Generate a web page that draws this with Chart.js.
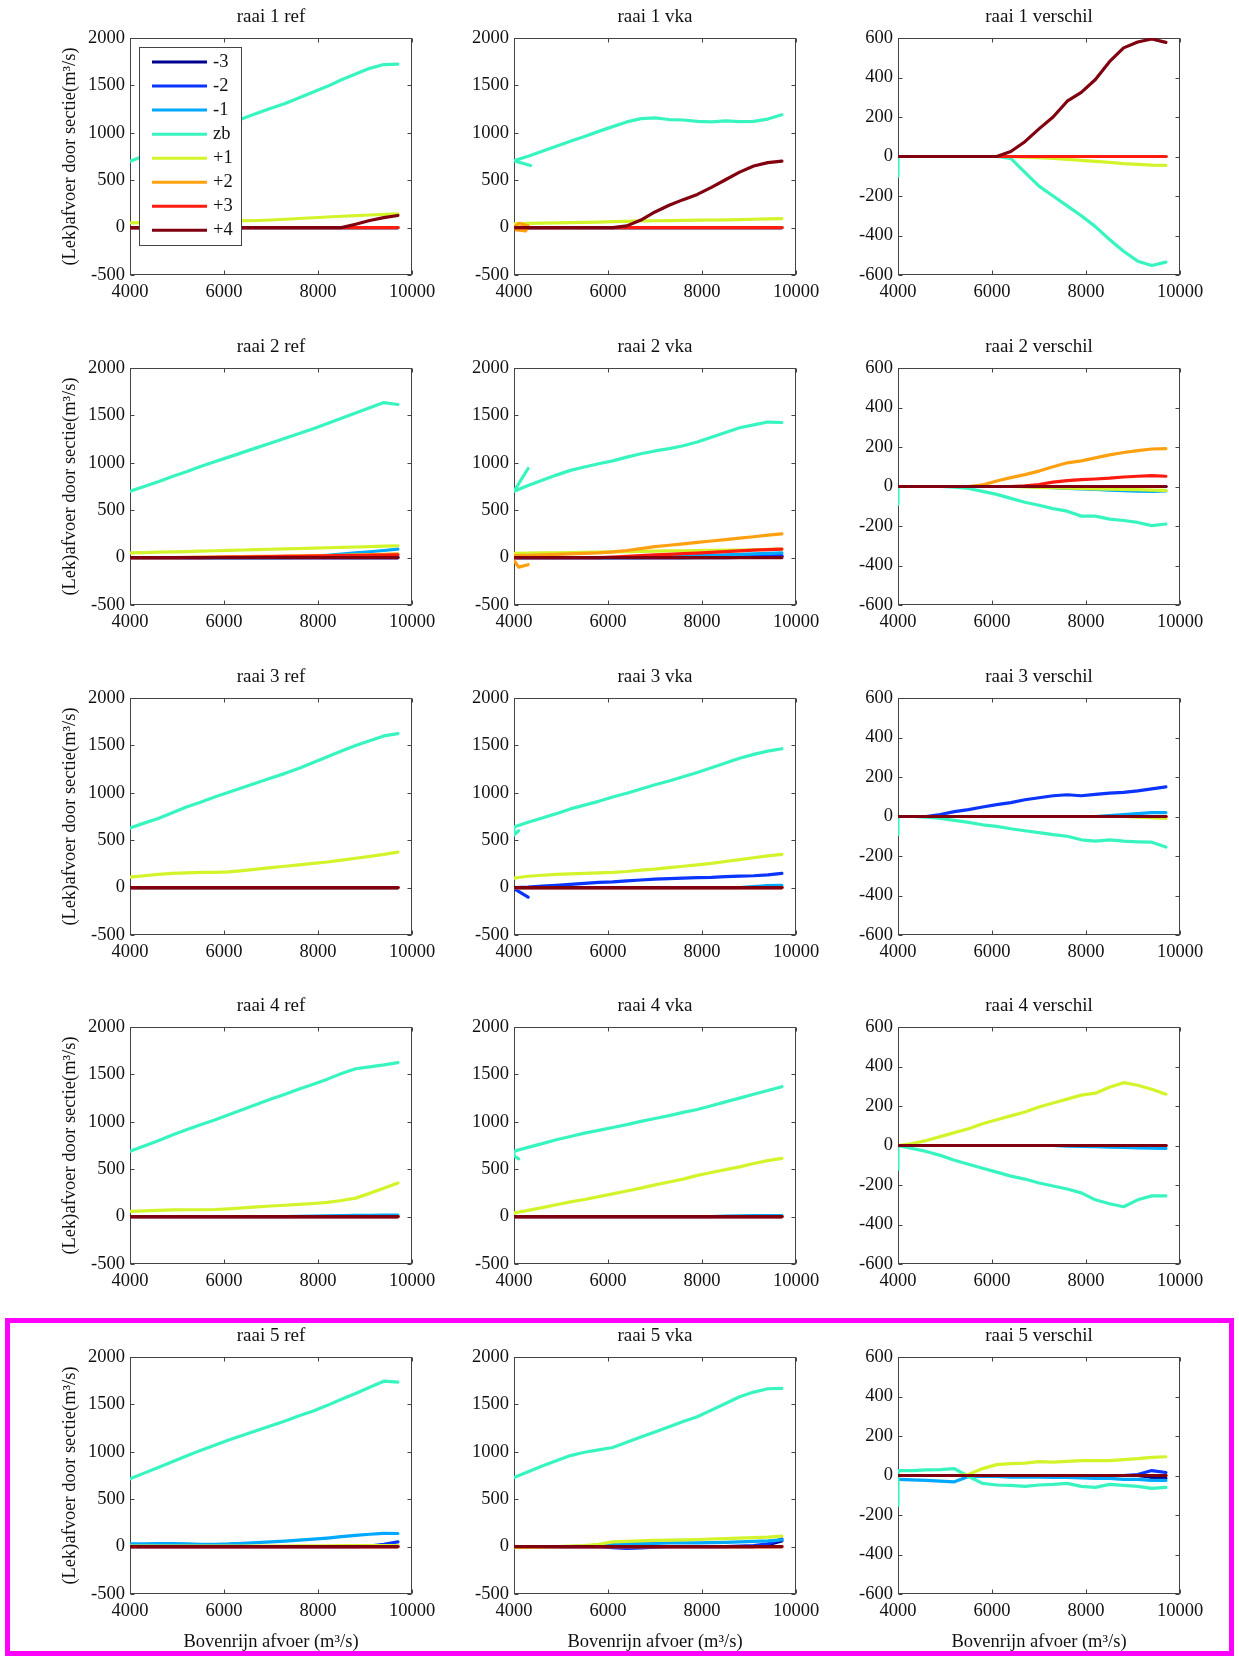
<!DOCTYPE html>
<html><head><meta charset="utf-8">
<script src="https://cdn.jsdelivr.net/npm/chart.js@4.4.1/dist/chart.umd.min.js"></script>
<style>
html,body{margin:0;padding:0;background:#fff;}
body{width:1239px;height:1656px;position:relative;overflow:hidden;}
.p{position:absolute;}
#frame{position:absolute;left:5px;top:1318px;width:1219px;height:328px;border:5px solid #ff00ff;pointer-events:none;z-index:5;}
</style></head><body>
<div id="frame"></div>
<script>
// ---------- data ----------
const SERIES_NAMES = ['-3','-2','-1','zb','+1','+2','+3','+4'];
const X_TICKS = [4000, 6000, 8000, 10000];
const Y_TICKS_Q = [-500, 0, 500, 1000, 1500, 2000];
const Y_TICKS_D = [-600, -400, -200, 0, 200, 400, 600];
const X  = [4000,4300,4600,4900,5200,5500,5800,6100,6400,6700,7000,7300,7600,7900,8200,8500,8800,9100,9400,9700];
const XC = [4000, 9700];
const ZC = [0, 0];

// raai 1
const R1REF_ZB = [700,755,810,870,925,985,1040,1095,1150,1205,1260,1310,1370,1430,1490,1560,1620,1680,1720,1725];
const R1REF_P1 = [50,53,56,59,62,65,68,70,72,75,80,88,96,104,112,120,127,133,140,145];
const R1REF_P4 = [0,0,0,0,0,0,0,0,0,0,0,0,0,0,0,0,35,75,105,128];
const R1VKA_ZB = [705,752,805,857,910,962,1015,1065,1115,1150,1158,1140,1135,1120,1115,1125,1118,1120,1145,1190];
const R1VKA_ZB_PRE = [[4350,655]];
const R1VKA_P1 = [40,45,48,50,52,55,58,62,66,70,72,74,76,78,80,82,85,88,92,95];
const R1VKA_P2_PRE = [[4000,0],[4100,45],[4300,20],[4250,-35],[4050,-25],[4000,0]];
const R1VKA_P4 = [0,0,0,0,0,0,0,0,18,80,165,235,295,350,425,505,585,650,685,702];
const R1DIF_ZB = [0,0,0,0,0,0,0,0,-10,-80,-150,-200,-250,-300,-355,-420,-480,-530,-552,-535];
const R1DIF_ZB_PRE = [[4000,-100]];
const R1DIF_P1 = [0,0,0,0,0,0,0,0,0,-3,-6,-10,-15,-20,-25,-30,-36,-40,-44,-45];
const R1DIF_P4 = [0,0,0,0,0,0,0,0,25,75,140,200,280,325,390,480,550,580,595,578];

// raai 2
const R2REF_ZB = [700,750,800,855,905,960,1010,1060,1110,1160,1210,1260,1310,1360,1415,1470,1525,1580,1635,1615];
const R2REF_P1 = [50,53,57,60,64,68,72,76,80,84,88,92,96,100,104,108,112,116,120,125];
const R2REF_M1 = [0,0,0,0,0,0,0,0,0,0,0,0,5,15,25,38,50,62,75,90];
const R2REF_P2 = [0,0,0,0,2,4,6,8,10,12,14,16,18,20,22,25,28,31,35,40];
const R2REF_P3 = [0,0,0,0,0,0,2,4,6,8,10,12,14,16,18,20,22,24,27,30];
const R2VKA_ZB = [700,760,815,870,920,955,990,1020,1060,1095,1125,1150,1180,1220,1270,1320,1370,1400,1430,1425];
const R2VKA_ZB_PRE = [[4300,940]];
const R2VKA_P1 = [45,47,49,51,53,55,57,60,63,66,68,70,72,74,76,78,80,83,86,90];
const R2VKA_P2 = [20,25,30,35,40,45,50,60,75,95,115,130,145,160,175,190,205,220,238,250];
const R2VKA_P2_PRE = [[4300,-75],[4100,-100],[4000,-30]];
const R2VKA_P3 = [0,0,0,0,0,0,0,5,12,20,28,35,42,48,55,62,70,78,85,90];
const R2VKA_M1 = [0,0,0,0,0,0,0,0,0,0,5,10,15,20,25,30,35,40,45,50];
const R2VKA_M2 = [0,0,0,0,0,0,0,0,0,0,0,0,0,2,4,6,8,12,16,20];
const R2VKA_M3 = [0,0,0,0,0,0,0,0,0,0,0,0,0,0,0,0,2,5,10,15];
const R2DIF_ZB = [0,0,0,0,-3,-10,-25,-40,-60,-80,-95,-112,-125,-150,-150,-165,-172,-182,-198,-190];
const R2DIF_ZB_PRE = [[4000,-90]];
const R2DIF_P1 = [0,0,0,0,0,0,0,0,0,-2,-4,-6,-8,-10,-12,-14,-15,-16,-18,-20];
const R2DIF_P2 = [0,0,0,0,0,0,8,28,45,60,78,100,120,130,145,160,172,182,190,192];
const R2DIF_P3 = [0,0,0,0,0,0,0,0,0,3,10,22,30,35,38,42,48,52,55,52];
const R2DIF_M1 = [0,0,0,0,0,0,0,0,0,0,-3,-6,-9,-12,-15,-18,-21,-24,-25,-22];

// raai 3
const R3REF_ZB = [630,680,730,790,850,900,955,1005,1055,1105,1155,1205,1260,1320,1380,1440,1500,1550,1600,1625];
const R3REF_P1 = [110,125,140,150,155,160,160,165,180,195,210,225,240,255,270,290,310,330,350,375];
const R3VKA_ZB = [640,690,735,780,830,870,910,955,995,1040,1085,1125,1170,1215,1265,1315,1365,1405,1440,1465];
const R3VKA_ZB_PRE = [[4100,600],[4000,555]];
const R3VKA_P1 = [100,120,130,140,145,150,155,160,170,185,195,210,225,240,255,275,295,315,335,350];
const R3VKA_M2 = [0,5,15,25,35,45,55,60,70,80,90,95,100,105,108,115,120,125,135,150];
const R3VKA_M2_PRE = [[4300,-100],[4000,-10]];
const R3VKA_M1 = [0,0,0,0,0,0,0,0,0,0,0,0,0,0,0,0,0,10,20,25];
const R3DIF_ZB = [0,0,-3,-10,-20,-30,-42,-50,-62,-72,-82,-92,-100,-118,-125,-118,-125,-128,-130,-155];
const R3DIF_ZB_PRE = [[4000,-90]];
const R3DIF_M2 = [0,0,0,10,25,35,48,60,70,85,95,105,110,105,112,118,122,130,140,150];
const R3DIF_M1 = [0,0,0,0,0,0,0,0,0,0,0,0,0,0,0,5,10,15,20,20];
const R3DIF_P1 = [0,0,0,0,0,0,0,0,0,0,0,0,0,0,0,0,0,-3,-6,-10];

// raai 4
const R4REF_ZB = [690,745,800,860,915,970,1020,1075,1130,1185,1240,1290,1345,1395,1450,1510,1560,1580,1600,1625];
const R4REF_P1 = [55,60,65,70,72,72,75,82,92,102,112,120,128,138,150,170,195,245,300,355];
const R4REF_M1 = [0,0,0,0,0,0,0,0,0,0,0,0,3,5,8,10,12,14,15,15];
const R4VKA_ZB = [690,730,770,810,845,880,910,940,970,1005,1035,1065,1100,1130,1170,1210,1250,1290,1330,1370];
const R4VKA_ZB_PRE = [[4100,610],[4000,640]];
const R4VKA_P1 = [40,65,95,125,155,180,210,240,270,300,335,365,395,435,465,495,525,560,590,615];
const R4VKA_P1_PRE = [[4000,15]];
const R4VKA_M1 = [0,0,0,0,0,0,0,0,0,0,0,0,0,0,0,5,8,10,10,10];
const R4DIF_ZB = [0,-15,-30,-50,-75,-95,-115,-135,-155,-170,-190,-205,-220,-240,-275,-295,-310,-275,-255,-255];
const R4DIF_ZB_PRE = [[4000,-120]];
const R4DIF_P1 = [0,10,25,45,65,85,110,130,150,170,195,215,235,255,265,295,318,305,285,260];
const R4DIF_M1 = [0,0,0,0,0,0,0,0,0,0,0,0,-3,-5,-6,-8,-10,-12,-14,-15];

// raai 5
const R5REF_ZB = [715,775,835,895,955,1015,1070,1125,1175,1225,1275,1325,1380,1430,1490,1555,1615,1680,1745,1735];
const R5REF_M1 = [30,30,32,32,30,25,25,28,35,42,50,58,68,78,90,105,118,130,140,138];
const R5REF_M2 = [0,0,0,0,0,0,0,0,0,0,0,0,0,0,0,0,0,5,25,50];
const R5REF_P1 = [5,5,5,5,5,5,5,5,5,5,5,6,7,8,9,10,10,10,10,10];
const R5VKA_ZB = [730,790,850,905,960,995,1020,1045,1100,1155,1210,1265,1320,1370,1440,1510,1580,1630,1665,1670];
const R5VKA_P1 = [-10,-8,-5,0,5,10,25,50,55,60,65,68,70,75,80,85,90,95,100,110];
const R5VKA_M1 = [0,0,0,0,0,5,15,30,32,35,35,38,40,40,42,45,50,55,60,70];
const R5VKA_M2 = [0,0,0,0,0,0,0,-10,-20,-15,-5,0,0,0,0,0,5,10,30,80];
const R5VKA_M3 = [0,0,0,0,0,0,0,0,0,0,0,0,0,0,0,0,0,0,20,60];
const R5DIF_ZB = [25,25,28,30,35,-5,-40,-48,-50,-55,-48,-45,-40,-55,-60,-45,-50,-55,-65,-60];
const R5DIF_ZB_PRE = [[4000,-150]];
const R5DIF_P1 = [0,0,0,0,0,5,35,55,60,63,70,68,72,75,75,75,80,85,92,95];
const R5DIF_M1 = [-20,-22,-25,-28,-32,-5,-5,-5,-8,-8,-8,-10,-10,-12,-15,-15,-20,-20,-25,-25];
const R5DIF_M2 = [0,0,0,0,0,0,0,0,0,0,0,0,0,0,0,0,0,5,25,15];
const R5DIF_M3 = [0,0,0,0,0,0,0,0,0,0,0,0,0,0,0,0,0,0,-10,-15];

// ---------- styles ----------
const COLORS = ['#000090','#0a34ff','#00a8ff','#38f5c0','#d2f42a','#ffa010','#ff1a10','#800010'];
const FONT = "'Liberation Serif', 'Times New Roman', serif";
const TEXT = '#111';
const AXIS = '#444';
const Y_TITLE = '(Lek)afvoer door sectie(m\u00B3/s)';
const X_TITLE = 'Bovenrijn afvoer (m\u00B3/s)';

const S = (x, y, pre) => ({x, y, pre: pre || []});
const Z = S(XC, ZC);
const PANELS = [
  {t:'raai 1 ref', k:'Q', legend:true, s:[Z,Z,Z,S(X,R1REF_ZB),S(X,R1REF_P1),Z,Z,S(X,R1REF_P4)]},
  {t:'raai 1 vka', k:'Q', s:[Z,Z,Z,S(X,R1VKA_ZB,R1VKA_ZB_PRE),S(X,R1VKA_P1),S(XC,ZC,R1VKA_P2_PRE),Z,S(X,R1VKA_P4)]},
  {t:'raai 1 verschil', k:'D', s:[Z,Z,Z,S(X,R1DIF_ZB,R1DIF_ZB_PRE),S(X,R1DIF_P1),Z,Z,S(X,R1DIF_P4)]},
  {t:'raai 2 ref', k:'Q', s:[Z,Z,S(X,R2REF_M1),S(X,R2REF_ZB),S(X,R2REF_P1),S(X,R2REF_P2),S(X,R2REF_P3),Z]},
  {t:'raai 2 vka', k:'Q', s:[S(X,R2VKA_M3),S(X,R2VKA_M2),S(X,R2VKA_M1),S(X,R2VKA_ZB,R2VKA_ZB_PRE),S(X,R2VKA_P1),S(X,R2VKA_P2,R2VKA_P2_PRE),S(X,R2VKA_P3),Z]},
  {t:'raai 2 verschil', k:'D', s:[Z,Z,S(X,R2DIF_M1),S(X,R2DIF_ZB,R2DIF_ZB_PRE),S(X,R2DIF_P1),S(X,R2DIF_P2),S(X,R2DIF_P3),Z]},
  {t:'raai 3 ref', k:'Q', s:[Z,Z,Z,S(X,R3REF_ZB),S(X,R3REF_P1),Z,Z,Z]},
  {t:'raai 3 vka', k:'Q', s:[Z,S(X,R3VKA_M2,R3VKA_M2_PRE),S(X,R3VKA_M1),S(X,R3VKA_ZB,R3VKA_ZB_PRE),S(X,R3VKA_P1),Z,Z,Z]},
  {t:'raai 3 verschil', k:'D', s:[Z,S(X,R3DIF_M2),S(X,R3DIF_M1),S(X,R3DIF_ZB,R3DIF_ZB_PRE),S(X,R3DIF_P1),Z,Z,Z]},
  {t:'raai 4 ref', k:'Q', s:[Z,Z,S(X,R4REF_M1),S(X,R4REF_ZB),S(X,R4REF_P1),Z,Z,Z]},
  {t:'raai 4 vka', k:'Q', s:[Z,Z,S(X,R4VKA_M1),S(X,R4VKA_ZB,R4VKA_ZB_PRE),S(X,R4VKA_P1,R4VKA_P1_PRE),Z,Z,Z]},
  {t:'raai 4 verschil', k:'D', s:[Z,Z,S(X,R4DIF_M1),S(X,R4DIF_ZB,R4DIF_ZB_PRE),S(X,R4DIF_P1),Z,Z,Z]},
  {t:'raai 5 ref', k:'Q', s:[Z,S(X,R5REF_M2),S(X,R5REF_M1),S(X,R5REF_ZB),S(X,R5REF_P1),Z,Z,Z]},
  {t:'raai 5 vka', k:'Q', s:[S(X,R5VKA_M3),S(X,R5VKA_M2),S(X,R5VKA_M1),S(X,R5VKA_ZB),S(X,R5VKA_P1),Z,Z,Z]},
  {t:'raai 5 verschil', k:'D', s:[S(X,R5DIF_M3),S(X,R5DIF_M2),S(X,R5DIF_M1),S(X,R5DIF_ZB,R5DIF_ZB_PRE),S(X,R5DIF_P1),Z,Z,Z]}
];

// ---------- layout ----------
const COL_LEFT = [130, 514, 898];
const ROW_TOP = [38, 368, 698, 1027, 1357];
const PW = 282, PH = 237, TP = 32, RP = 32;

const decor = {
  id: 'decor',
  beforeDatasetsDraw(chart) {
    const {ctx, chartArea: a, scales: {x, y}} = chart;
    ctx.save();
    ctx.strokeStyle = AXIS; ctx.lineWidth = 1;
    const L = Math.round(a.left) + 0.5, R = Math.round(a.right) - 0.5;
    const T = Math.round(a.top) + 0.5, B = Math.round(a.bottom) - 0.5;
    ctx.strokeRect(L, T, R - L, B - T);
    ctx.beginPath();
    const tl = 4;
    x.ticks.forEach(t => { const px = Math.round(x.getPixelForValue(t.value)) + 0.5;
      ctx.moveTo(px, B); ctx.lineTo(px, B - tl); ctx.moveTo(px, T); ctx.lineTo(px, T + tl); });
    y.ticks.forEach(t => { const py = Math.round(y.getPixelForValue(t.value)) + 0.5;
      ctx.moveTo(L, py); ctx.lineTo(L + tl, py); ctx.moveTo(R, py); ctx.lineTo(R - tl, py); });
    ctx.stroke();
    ctx.restore();
  },
  afterDatasetsDraw(chart, args, o) {
    const {ctx, chartArea: a} = chart;
    ctx.save();
    const cx = (a.left + a.right) / 2, cy = (a.top + a.bottom) / 2;
    ctx.fillStyle = TEXT;
    ctx.textAlign = 'center'; ctx.textBaseline = 'middle';
    ctx.font = '19px ' + FONT;
    ctx.fillText(o.title, cx, a.top - 21);
    ctx.font = '18.5px ' + FONT;
    if (o.xTitle) ctx.fillText(o.xTitle, cx, a.bottom + 48);
    if (o.yTitle) {
      ctx.save(); ctx.translate(a.left - 60, cy); ctx.rotate(-Math.PI / 2);
      ctx.fillText(o.yTitle, 0, 0); ctx.restore();
    }
    if (o.legend) {
      const bx = Math.round(a.left) + 9, by = Math.round(a.top) + 9, bw = 103, bh = 199;
      ctx.fillStyle = '#fff'; ctx.fillRect(bx, by, bw, bh);
      ctx.strokeStyle = AXIS; ctx.lineWidth = 1; ctx.strokeRect(bx + 0.5, by + 0.5, bw - 1, bh - 1);
      chart.data.datasets.forEach((d, i) => {
        const yy = by + 15 + i * 24.05;
        ctx.strokeStyle = d.borderColor; ctx.lineWidth = 3;
        ctx.beginPath(); ctx.moveTo(bx + 13, yy); ctx.lineTo(bx + 68, yy); ctx.stroke();
        ctx.fillStyle = TEXT; ctx.textAlign = 'left'; ctx.textBaseline = 'middle';
        ctx.fillText(d.label, bx + 74, yy);
      });
    }
    ctx.restore();
  }
};

PANELS.forEach((p, i) => {
  const r = Math.floor(i / 3), c = i % 3;
  const YW = c === 0 ? 90 : 70;
  const XH = r === 4 ? 62 : 32;
  const div = document.createElement('div');
  div.className = 'p';
  div.style.left = (COL_LEFT[c] - YW) + 'px';
  div.style.top = (ROW_TOP[r] - TP) + 'px';
  div.style.width = (YW + PW + RP) + 'px';
  div.style.height = (TP + PH + XH) + 'px';
  const cv = document.createElement('canvas');
  div.appendChild(cv);
  document.body.appendChild(div);
  const yt = p.k === 'Q' ? Y_TICKS_Q : Y_TICKS_D;
  const datasets = p.s.map((s, j) => ({
    label: SERIES_NAMES[j],
    data: s.pre.map(q => ({x: q[0], y: q[1]})).concat(s.x.map((xv, m) => ({x: xv, y: s.y[m]}))),
    borderColor: COLORS[j], backgroundColor: COLORS[j],
    borderWidth: 3.2, pointRadius: 0, tension: 0, fill: false,
    borderJoinStyle: 'round', borderCapStyle: 'round',
    order: 7 - j
  }));
  new Chart(cv, {
    type: 'line',
    data: {datasets},
    options: {
      responsive: true, maintainAspectRatio: false, animation: false,
      layout: {padding: {top: TP, right: RP, left: 0, bottom: 0}},
      plugins: {
        legend: {display: false}, tooltip: {enabled: false}, title: {display: false},
        decor: {title: p.t, legend: !!p.legend, yTitle: c === 0 ? Y_TITLE : null, xTitle: r === 4 ? X_TITLE : null}
      },
      scales: {
        x: {
          type: 'linear', min: X_TICKS[0], max: X_TICKS[X_TICKS.length - 1],
          afterBuildTicks: s => { s.ticks = X_TICKS.map(v => ({value: v})); },
          afterFit: s => { s.height = XH; },
          grid: {display: false, drawTicks: false}, border: {display: false},
          ticks: {autoSkip: false, maxRotation: 0, padding: 6, color: TEXT,
                  font: {family: FONT, size: 18.5}, callback: v => String(v)}
        },
        y: {
          type: 'linear', min: yt[0], max: yt[yt.length - 1],
          afterBuildTicks: s => { s.ticks = yt.map(v => ({value: v})); },
          afterFit: s => { s.width = YW; },
          grid: {display: false, drawTicks: false}, border: {display: false},
          ticks: {autoSkip: false, padding: 5, color: TEXT,
                  font: {family: FONT, size: 18.5}, callback: v => String(v)}
        }
      }
    },
    plugins: [decor]
  });
});
</script></body></html>
